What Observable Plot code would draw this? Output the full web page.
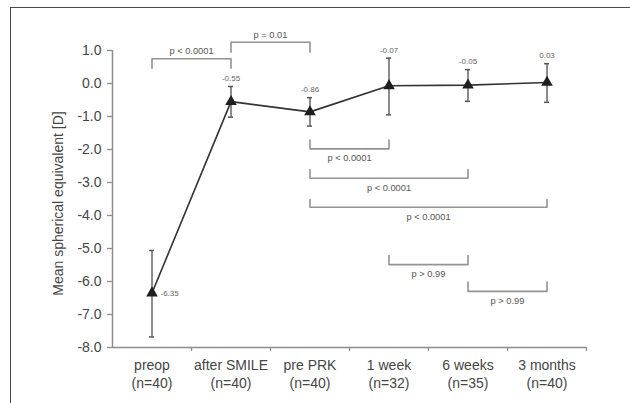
<!DOCTYPE html>
<html><head><meta charset="utf-8">
<script src="https://cdn.jsdelivr.net/npm/d3@7"></script>
<script src="https://cdn.jsdelivr.net/npm/@observablehq/plot@0.6"></script>
<style>
body{margin:0;background:#fff;}
#wrap{position:relative;width:630px;height:403px;overflow:hidden;}
#border{position:absolute;left:10px;top:7px;right:-5px;bottom:-5px;border-left:1.5px solid #4a4a4a;border-top:1.5px solid #4a4a4a;pointer-events:none;}
svg{display:block;}
</style></head><body>
<div id="wrap"><div id="border"></div></div>
<script>
// ---- data ----
const categories = ["preop\n(n=40)", "after SMILE\n(n=40)", "pre PRK\n(n=40)", "1 week\n(n=32)", "6 weeks\n(n=35)", "3 months\n(n=40)"];
const means = [-6.35, -0.55, -0.86, -0.07, -0.05, 0.03];
const upper = [-5.06, -0.09, -0.43, 0.77, 0.42, 0.60];
const lower = [-7.68, -1.02, -1.29, -0.95, -0.54, -0.57];
const meanLabels = ["-6.35", "-0.55", "-0.86", "-0.07", "-0.05", "0.03"];
const yTicks = [1, 0, -1, -2, -3, -4, -5, -6, -7, -8];
const xBandTicks = [0.5, 1.5, 2.5, 3.5, 4.5, 5.5];
const bracketFrom = [0, 1, 2, 2, 2, 3, 4];
const bracketTo = [1, 2, 3, 4, 5, 4, 5];
const bracketLevel = [0.75, 1.25, -1.98, -2.87, -3.75, -5.49, -6.30];
const bracketTip = [0.46, 0.95, -1.71, -2.61, -3.52, -5.21, -6.02];
const bracketText = ["p < 0.0001", "p = 0.01", "p < 0.0001", "p < 0.0001", "p < 0.0001", "p > 0.99", "p > 0.99"];

// ---- tables ----
const data = categories.map((c, i) => ({i, cat: c, mean: means[i], hi: upper[i], lo: lower[i], label: meanLabels[i]}));
const brackets = bracketText.map((t, k) => ({k, from: bracketFrom[k], to: bracketTo[k], level: bracketLevel[k], tip: bracketTip[k], text: t, mid: (bracketFrom[k] + bracketTo[k]) / 2, top: bracketLevel[k] > bracketTip[k]}));
const bracketPts = brackets.flatMap(b => [
  {k: b.k, x: b.from, y: b.tip},
  {k: b.k, x: b.from, y: b.level},
  {k: b.k, x: b.to, y: b.level},
  {k: b.k, x: b.to, y: b.tip}
]);

const font = "'Liberation Sans', Arial, Helvetica, sans-serif";
const chart = Plot.plot({
  width: 630, height: 403,
  marginLeft: 112, marginRight: 44, marginTop: 50, marginBottom: 56,
  style: {fontFamily: font, background: "transparent", overflow: "visible"},
  x: {type: "linear", domain: [-0.5, 5.5]},
  y: {type: "linear", domain: [-8, 1]},
  marks: [
    Plot.axisY({ticks: yTicks, tickSize: 5, tickPadding: 6, tickFormat: d => d.toFixed(1), fontSize: 14, color: "#454545", stroke: "#8c8c8c", strokeWidth: 1.3, label: null}),
    Plot.axisX({ticks: xBandTicks, tickSize: 4, tickFormat: () => "", stroke: "#8c8c8c", strokeWidth: 1.3, label: null}),
    Plot.ruleX([-0.5], {stroke: "#8c8c8c", strokeWidth: 1.5}),
    Plot.ruleY([-8], {stroke: "#8c8c8c", strokeWidth: 1.5}),
    Plot.text(data, {x: "i", text: "cat", frameAnchor: "bottom", dy: 26, lineAnchor: "middle", lineHeight: 1.24, fontSize: 14, fill: "#454545"}),
    Plot.text(["Mean spherical equivalent [D]"], {frameAnchor: "left", textAnchor: "middle", dx: -54, dy: 4.5, rotate: -90, fontSize: 14, fill: "#454545"}),
    // brackets
    Plot.line(bracketPts, {x: "x", y: "y", z: "k", stroke: "#939393", strokeWidth: 1.6}),
    Plot.text(brackets, {filter: d => d.top, x: "mid", y: "level", text: "text", dy: -7.6, fontSize: 9.3, fill: "#555"}),
    Plot.text(brackets, {filter: d => !d.top, x: "mid", y: "level", text: "text", dy: 9.4, fontSize: 9.3, fill: "#555"}),
    // error bars
    Plot.ruleX(data, {x: "i", y1: "lo", y2: "hi", stroke: "#666", strokeWidth: 1.5}),
    Plot.ruleY(data, {x1: d => d.i - 0.032, x2: d => d.i + 0.032, y: "hi", stroke: "#555", strokeWidth: 1.5}),
    Plot.ruleY(data, {x1: d => d.i - 0.032, x2: d => d.i + 0.032, y: "lo", stroke: "#555", strokeWidth: 1.5}),
    // mean line + markers
    Plot.line(data, {x: "i", y: "mean", stroke: "#333", strokeWidth: 1.6}),
    Plot.dot(data, {x: "i", y: "mean", symbol: "triangle", r: 4.3, fill: "#1e1e1e", stroke: "none"}),
    // value labels
    Plot.text(data, {filter: d => d.i === 0, x: "i", y: "mean", text: "label", dx: 8.5, textAnchor: "start", fontSize: 8, fill: "#666"}),
    Plot.text(data, {filter: d => d.i > 0, x: "i", y: "hi", text: "label", dy: -8, fontSize: 8, fill: "#666"})
  ]
});
document.getElementById("wrap").prepend(chart);
</script>
</body></html>
